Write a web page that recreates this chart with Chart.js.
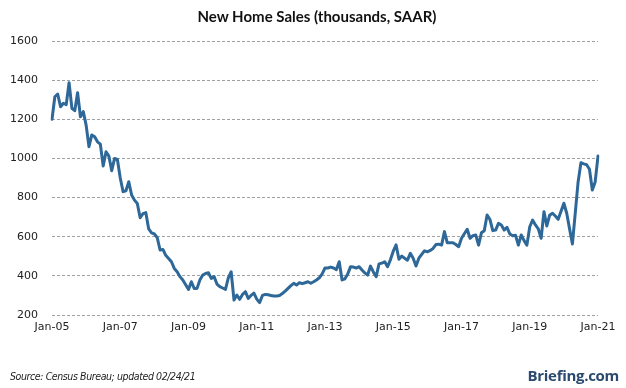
<!DOCTYPE html>
<html><head><meta charset="utf-8">
<script src="https://cdn.jsdelivr.net/npm/chart.js@4"></script>
<style>
body{margin:0;background:#fff;}
#wrap{position:relative;width:626px;height:388px;overflow:hidden;}
canvas{position:absolute;left:0;top:0;}
#title{position:absolute;left:4px;top:7px;width:626px;text-align:center;font:bold 15px Lato, sans-serif;color:#111;}
#src{position:absolute;left:10px;top:370px;font:italic 10.5px "DejaVu Sans Condensed", sans-serif;color:#222;white-space:nowrap;letter-spacing:-0.4px;}
#logo{position:absolute;right:7px;top:365px;font:bold 15px "Open Sans", sans-serif;color:#2b4a6e;white-space:nowrap;letter-spacing:-0.3px;}
</style></head><body>
<div id="wrap">
<canvas id="c" width="626" height="388"></canvas>
<div id="title">New Home Sales (thousands, SAAR)</div>
<div id="src">Source: Census Bureau; updated 02/24/21</div>
<div id="logo">Briefing.com</div>
</div>
<script>
// Monthly new home sales (thousands, SAAR), Jan 2005 - Jan 2021
const sales2005 = [1200,1315,1329,1264,1282,1275,1387,1256,1244,1336,1213,1239];
const sales2006 = [1170,1060,1120,1111,1085,1073,961,1034,1012,937,1000,995];
const sales2007 = [900,830,835,881,813,787,770,697,718,723,640,620];
const sales2008 = [614,595,532,535,505,489,472,438,421,396,379,355];
const sales2009 = [331,370,336,336,379,404,412,416,387,396,358,345];
const sales2010 = [338,331,390,421,276,302,280,305,319,285,300,312];
const sales2011 = [281,263,300,305,303,300,297,297,300,310,322,336];
const sales2012 = [350,362,353,365,360,365,370,362,370,379,390,410];
const sales2013 = [440,440,445,440,432,472,379,385,410,447,445,440];
const sales2014 = [447,430,415,404,450,420,396,461,465,472,447,482];
const sales2015 = [526,558,485,501,490,480,515,490,450,490,510,528];
const sales2016 = [523,530,540,560,562,557,626,569,569,569,560,549];
const sales2017 = [592,615,638,592,605,609,557,620,630,711,688,631];
const sales2018 = [634,668,660,634,648,614,605,607,557,609,580,557];
const sales2019 = [651,685,660,640,592,728,655,710,720,706,689,730];
const sales2020 = [771,720,640,563,720,880,978,972,968,945,839,880];
const sales2021 = [1012];

const years = ['05','06','07','08','09','10','11','12','13','14','15','16','17','18','19','20','21'];
const months = ['Jan','Feb','Mar','Apr','May','Jun','Jul','Aug','Sep','Oct','Nov','Dec'];
const tickLabels = ['Jan-05','Jan-07','Jan-09','Jan-11','Jan-13','Jan-15','Jan-17','Jan-19','Jan-21'];
const yTicks = [200,400,600,800,1000,1200,1400,1600];

const seriesByYear = [sales2005,sales2006,sales2007,sales2008,sales2009,sales2010,sales2011,sales2012,
  sales2013,sales2014,sales2015,sales2016,sales2017,sales2018,sales2019,sales2020,sales2021];
const categories = [];
const values = [];
seriesByYear.forEach((arr, yi) => {
  arr.forEach((v, mi) => { categories.push(months[mi] + '-' + years[yi]); values.push(v); });
});

new Chart(document.getElementById('c'), {
  type: 'line',
  data: {
    labels: categories,
    datasets: [{
      data: values,
      borderColor: '#2e6899',
      borderWidth: 3,
      pointRadius: 0,
      tension: 0,
      fill: false,
      borderJoinStyle: 'round',
      borderCapStyle: 'round'
    }]
  },
  options: {
    responsive: false,
    devicePixelRatio: 1,
    animation: false,
    layout: { padding: { top: 41, right: 28, bottom: 43, left: 0 } },
    plugins: { legend: { display: false }, title: { display: false }, tooltip: { enabled: false } },
    scales: {
      x: {
        offset: false,
        grid: { display: false, drawTicks: false },
        border: { display: false },
        afterFit: s => { s.height = 30; },
        ticks: {
          autoSkip: false, maxRotation: 0, minRotation: 0, padding: 6,
          color: '#222', font: { family: 'DejaVu Sans', size: 11 },
          callback: function(val, idx) {
            const l = this.getLabelForValue(val);
            return tickLabels.includes(l) ? l : '';
          }
        }
      },
      y: {
        min: 200, max: 1600,
        afterFit: s => { s.width = 52; },
        afterBuildTicks: s => { s.ticks = yTicks.map(v => ({ value: v })); },
        grid: { color: '#a0a0a0', lineWidth: 1, drawTicks: false },
        border: { display: false, dash: [3, 2] },
        ticks: { padding: 14, color: '#222', font: { family: 'DejaVu Sans', size: 11 },
          callback: v => String(v) }
      }
    }
  }
});
</script>
</body></html>
